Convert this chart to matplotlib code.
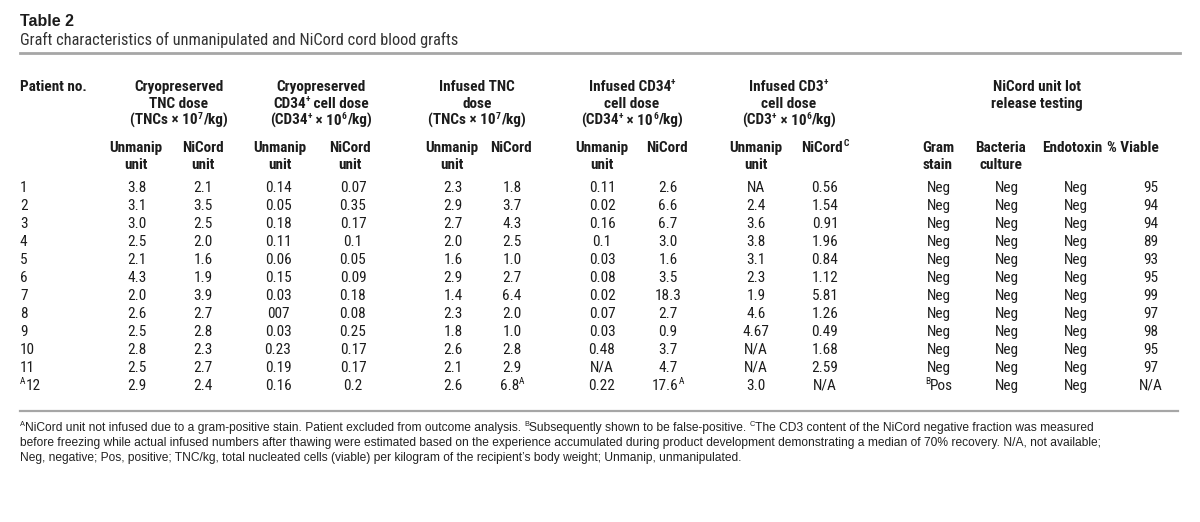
import re
import matplotlib
matplotlib.use('Agg')
import matplotlib.pyplot as plt
from matplotlib import font_manager

W, H = 1200, 522

# ---- table content ----
patients = ['1', '2', '3', '4', '5', '6', '7', '8', '9', '10', '11', '^{A}12']
cryo_tnc_unmanip = ['3.8', '3.1', '3.0', '2.5', '2.1', '4.3', '2.0', '2.6', '2.5', '2.8', '2.5', '2.9']
cryo_tnc_nicord = ['2.1', '3.5', '2.5', '2.0', '1.6', '1.9', '3.9', '2.7', '2.8', '2.3', '2.7', '2.4']
cryo_cd34_unmanip = ['0.14', '0.05', '0.18', '0.11', '0.06', '0.15', '0.03', '007', '0.03', '0.23', '0.19', '0.16']
cryo_cd34_nicord = ['0.07', '0.35', '0.17', '0.1', '0.05', '0.09', '0.18', '0.08', '0.25', '0.17', '0.17', '0.2']
inf_tnc_unmanip = ['2.3', '2.9', '2.7', '2.0', '1.6', '2.9', '1.4', '2.3', '1.8', '2.6', '2.1', '2.6']
inf_tnc_nicord = ['1.8', '3.7', '4.3', '2.5', '1.0', '2.7', '6.4', '2.0', '1.0', '2.8', '2.9', '6.8^{A}']
inf_cd34_unmanip = ['0.11', '0.02', '0.16', '0.1', '0.03', '0.08', '0.02', '0.07', '0.03', '0.48', 'N/A', '0.22']
inf_cd34_nicord = ['2.6', '6.6', '6.7', '3.0', '1.6', '3.5', '18.3', '2.7', '0.9', '3.7', '4.7', '17.6^{A}']
inf_cd3_unmanip = ['NA', '2.4', '3.6', '3.8', '3.1', '2.3', '1.9', '4.6', '4.67', 'N/A', 'N/A', '3.0']
inf_cd3_nicord = ['0.56', '1.54', '0.91', '1.96', '0.84', '1.12', '5.81', '1.26', '0.49', '1.68', '2.59', 'N/A']
gram_stain = ['Neg', 'Neg', 'Neg', 'Neg', 'Neg', 'Neg', 'Neg', 'Neg', 'Neg', 'Neg', 'Neg', '^{B}Pos']
bacteria = ['Neg', 'Neg', 'Neg', 'Neg', 'Neg', 'Neg', 'Neg', 'Neg', 'Neg', 'Neg', 'Neg', 'Neg']
endotoxin = ['Neg', 'Neg', 'Neg', 'Neg', 'Neg', 'Neg', 'Neg', 'Neg', 'Neg', 'Neg', 'Neg', 'Neg']
viable = ['95', '94', '94', '89', '93', '95', '99', '97', '98', '95', '97', 'N/A']

group_headers = [
    ['Cryopreserved', 'TNC dose', '(TNCs × 10^{7}/kg)'],
    ['Cryopreserved', 'CD34^{+} cell dose', '(CD34^{+} × 10^{6}/kg)'],
    ['Infused TNC', 'dose', '(TNCs × 10^{7}/kg)'],
    ['Infused CD34^{+}', 'cell dose', '(CD34^{+} × 10^{6}/kg)'],
    ['Infused CD3^{+}', 'cell dose', '(CD3^{+} × 10^{6}/kg)'],
    ['NiCord unit lot', 'release testing'],
]
sub_headers = [
    ['Unmanip', 'unit'], ['NiCord', 'unit'], ['Unmanip', 'unit'], ['NiCord', 'unit'],
    ['Unmanip', 'unit'], ['NiCord'], ['Unmanip', 'unit'], ['NiCord'],
    ['Unmanip', 'unit'], ['NiCord^{C}'], ['Gram', 'stain'], ['Bacteria', 'culture'],
    ['Endotoxin'], ['% Viable'],
]
footnotes = [
    '^{A}NiCord unit not infused due to a gram-positive stain. Patient excluded from outcome analysis. '
    '^{B}Subsequently shown to be false-positive. ^{C}The CD3 content of the NiCord negative fraction was measured',
    'before freezing while actual infused numbers after thawing were estimated based on the experience accumulated '
    'during product development demonstrating a median of 70% recovery. N/A, not available;',
    'Neg, negative; Pos, positive; TNC/kg, total nucleated cells (viable) per kilogram of the recipient’s body weight; '
    'Unmanip, unmanipulated.',
]

columns = [cryo_tnc_unmanip, cryo_tnc_nicord, cryo_cd34_unmanip, cryo_cd34_nicord,
           inf_tnc_unmanip, inf_tnc_nicord, inf_cd34_unmanip, inf_cd34_nicord,
           inf_cd3_unmanip, inf_cd3_nicord, gram_stain, bacteria, endotoxin, viable]

# ---- layout (pixels, top-left origin) ----
group_x = [179, 321, 477, 632, 789, 1037]
sub_x = [136, 203, 280, 350, 452, 511, 602, 667, 756, 825, 938, 1001, 1072, 1133]
data_x = [137, 203, 278, 353, 453, 512, 602, 668, 756, 825, 939, 1007, 1076, 1151]
head_y = [91, 108, 125]
sub_y = [152, 169]
row_y0, row_dy = 192, 18

names = {f.name for f in font_manager.fontManager.ttflist}
NARROW = next((n for n in ['Roboto Condensed', 'Archivo Narrow', 'Liberation Sans Narrow',
                           'Fira Sans Condensed', 'IBM Plex Sans Condensed', 'DejaVu Sans']
               if n in names), 'DejaVu Sans')
REGULAR = 'Liberation Sans' if 'Liberation Sans' in names else 'DejaVu Sans'
INK = '#1c1c1c'

fig = plt.figure(figsize=(W / 100, H / 100), dpi=100)
renderer = fig.canvas.get_renderer()


def px(x, y):
    return x / W, 1 - y / H


def split_parts(s):
    parts = []
    for tok in re.split(r'(\^\{[^}]*\})', s):
        if not tok:
            continue
        if tok.startswith('^{'):
            parts.append((tok[2:-1], True))
        else:
            parts.append((tok, False))
    return parts


def measure(txt, **kw):
    t = fig.text(0, 0, 'x' + txt + 'x', **kw)
    w1 = t.get_window_extent(renderer).width
    t.set_text('xx')
    w2 = t.get_window_extent(renderer).width
    t.remove()
    return w1 - w2


def rich_width(s, size, weight, family):
    total = 0
    for txt, sup in split_parts(s):
        total += measure(txt, fontsize=size * 0.62 if sup else size, fontweight=weight,
                         family=[family, 'DejaVu Sans'])
    return total


def fit(s, target, weight='normal', family=None):
    family = family or NARROW
    return 10 * target / rich_width(s, 10, weight, family)


def rich(x, y, s, size=9.5, weight='normal', family=None, ha='center', color=INK):
    family = family or NARROW
    items, total = [], 0
    for txt, sup in split_parts(s):
        kw = dict(fontsize=size * 0.62 if sup else size, fontweight=weight,
                  family=[family, 'DejaVu Sans'], color=color, va='baseline', ha='left')
        w = measure(txt, **kw)
        items.append((txt, sup, kw, w))
        total += w
    x0 = {'center': x - total / 2, 'right': x - total}.get(ha, x)
    for txt, sup, kw, w in items:
        yy = y - (size * 0.42 * 100 / 72 if sup else 0)
        fig.text(*px(x0, yy), txt, **kw)
        x0 += w


# sizes matched to the widths of a few reference strings (the reference face is a bit taller)
head_fs = min(fit('Cryopreserved', 85, 'bold') * 1.05, 11)
body_fs = min(fit('0.14', 25) * 1.06, head_fs)
sub_fs = min(fit(footnotes[0], 1073, family=REGULAR), 9)
title_fs = min(fit('Graft characteristics of unmanipulated and NiCord cord blood grafts', 438), 12)

# title block
rich(20, 26, 'Table 2', size=11.5, weight='bold', family=REGULAR, ha='left')
rich(20, 45, 'Graft characteristics of unmanipulated and NiCord cord blood grafts',
     size=title_fs, ha='left', color='#333333')

fig.add_artist(plt.Line2D([20 / W, 1180 / W], [1 - 53 / H, 1 - 53 / H],
                          transform=fig.transFigure, color='#a6a6a6', lw=2))

# column headers
rich(20, head_y[0], 'Patient no.', size=head_fs, weight='bold', ha='left')
for gx, lines in zip(group_x, group_headers):
    for yy, line in zip(head_y, lines):
        rich(gx, yy, line, size=head_fs, weight='bold')
for sx, lines in zip(sub_x, sub_headers):
    for yy, line in zip(sub_y, lines):
        rich(sx, yy, line, size=head_fs, weight='bold')

# body
for i, p in enumerate(patients):
    rich(20, row_y0 + i * row_dy, p, size=body_fs, ha='left')
for cx, col in zip(data_x, columns):
    for i, v in enumerate(col):
        rich(cx, row_y0 + i * row_dy, v, size=body_fs)

fig.add_artist(plt.Line2D([20 / W, 1178 / W], [1 - 411 / H, 1 - 411 / H],
                          transform=fig.transFigure, color='#a6a6a6', lw=1.6))

# footnotes
for k, line in enumerate(footnotes):
    rich(20, 431 + k * 15, line, size=sub_fs, family=REGULAR, ha='left', color='#222222')

fig.savefig('out.png', dpi=100, facecolor='white')
